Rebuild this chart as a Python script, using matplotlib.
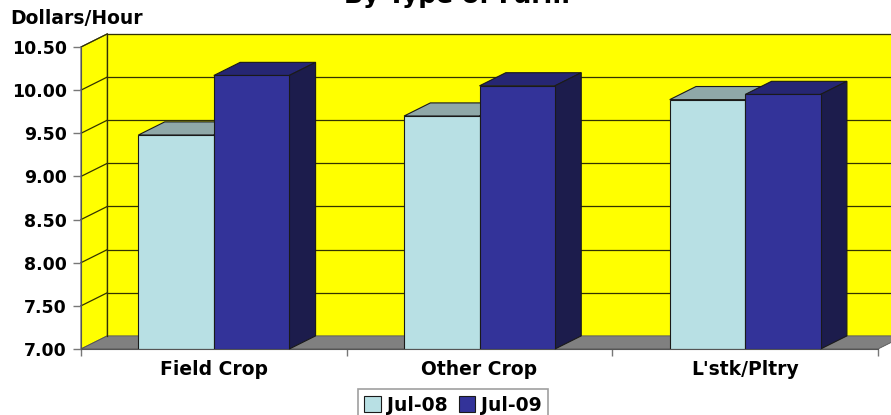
# Farm wage rates by type of farm - faux 3D column chart

import numpy as np
import matplotlib.pyplot as plt
from matplotlib.patches import Polygon, Rectangle

# Data
categories = ['Field Crop', 'Other Crop', "L'stk/Pltry"]
jul08 = [9.48, 9.70, 9.89]
jul09 = [10.17, 10.05, 9.95]
series_names = ['Jul-08', 'Jul-09']
y_ticks = [7.00, 7.50, 8.00, 8.50, 9.00, 9.50, 10.00, 10.50]

# Look
wall_col = '#FFFF00'
floor_col = '#808080'
grid_col = '#333300'
c08 = ('#B8E0E4', '#8FA8A8', '#7A9A9E')  # front, top, side
c09 = ('#333399', '#262673', '#1C1C4C')
edge = '#1a1a1a'
font = 'DejaVu Sans'

ymin, ymax = 7.0, 10.5
dx, dy = 0.099, 0.152  # depth offset in data units
w = 0.284  # bar width

fig = plt.figure(figsize=(8.91, 4.15), dpi=100)
ax = fig.add_axes([81 / 891, 66 / 415, 797 / 891, 302 / 415])
ax.set_xlim(0, 3)
ax.set_ylim(ymin, ymax)
ax.patch.set_visible(False)
for s in ['top', 'right']:
    ax.spines[s].set_visible(False)
ax.spines['left'].set_color('#555555')
ax.spines['bottom'].set_color('#555555')
ax.spines['left'].set_zorder(5)

# walls and floor
ax.add_patch(Rectangle((dx, ymin + dy), 3, ymax - ymin, fc=wall_col,
                       ec='#888888', lw=0.8, clip_on=False, zorder=0))
ax.add_patch(Polygon([(0, ymin), (dx, ymin + dy), (dx, ymax + dy), (0, ymax)],
                     fc=wall_col, ec='#555555', lw=0.8, clip_on=False, zorder=0))
ax.add_patch(Polygon([(0, ymin), (3, ymin), (3 + dx, ymin + dy), (dx, ymin + dy)],
                     fc=floor_col, ec='#555555', lw=0.6, clip_on=False, zorder=0.5))
for t in y_ticks[1:]:
    ax.plot([dx, 3 + dx], [t + dy, t + dy], color=grid_col, lw=0.9,
            clip_on=False, zorder=0.6)
    ax.plot([0, dx], [t, t + dy], color=grid_col, lw=0.9, clip_on=False, zorder=0.6)
ax.plot([dx, dx], [ymin + dy, ymax + dy], color=grid_col, lw=0.9,
        clip_on=False, zorder=0.6)


def box(x0, v, cols, z):
    ax.add_patch(Polygon([(x0, v), (x0 + w, v), (x0 + w + dx, v + dy), (x0 + dx, v + dy)],
                         fc=cols[1], ec=edge, lw=0.8, clip_on=False, zorder=z))
    ax.add_patch(Polygon([(x0 + w, ymin), (x0 + w, v), (x0 + w + dx, v + dy),
                          (x0 + w + dx, ymin + dy)],
                         fc=cols[2], ec=edge, lw=0.8, clip_on=False, zorder=z))


x = np.arange(len(categories)) + 0.5
for i in range(len(categories)):
    box(x[i] - w, jul08[i], c08, 1)
    box(x[i], jul09[i], c09, 3)
ax.bar(x - w / 2, np.array(jul08) - ymin, w, bottom=ymin, color=c08[0],
       edgecolor=edge, lw=0.8, zorder=2, label=series_names[0])
ax.bar(x + w / 2, np.array(jul09) - ymin, w, bottom=ymin, color=c09[0],
       edgecolor=edge, lw=0.8, zorder=4, label=series_names[1])

# axes ticks
ax.set_yticks(y_ticks)
ax.set_yticklabels([f'{t:.2f}' for t in y_ticks], fontsize=12.5,
                   fontweight='bold', family=font)
ax.tick_params(axis='y', length=6, width=1, color='#777777', pad=4)
ax.set_xticks([0, 1, 2, 3])
ax.set_xticklabels([])
ax.set_xticks(x, minor=True)
ax.set_xticklabels(categories, minor=True, fontsize=13.5, fontweight='bold',
                   family=font)
ax.tick_params(axis='x', which='major', length=5, width=1, color='#777777')
ax.tick_params(axis='x', which='minor', length=0, pad=8)

fig.text(10 / 891, 1 - 18 / 415, 'Dollars/Hour', fontsize=13.5, fontweight='bold',
         family=font, va='center', ha='left')
fig.text(457 / 891, 1 - 3 / 415, 'By Type of Farm', fontsize=18, fontweight='bold',
         family=font, va='baseline', ha='center')

leg = fig.legend(loc='upper center', bbox_to_anchor=(453 / 891, 1 - 389 / 415),
                 ncol=2, frameon=True, fancybox=False, edgecolor='#888888',
                 prop={'family': font, 'weight': 'bold', 'size': 13.5},
                 handlelength=0.9, handleheight=0.9, handletextpad=0.3,
                 columnspacing=0.6, borderpad=0.35, borderaxespad=0)
leg.get_frame().set_linewidth(1.2)

fig.savefig('out.png', dpi=100)
